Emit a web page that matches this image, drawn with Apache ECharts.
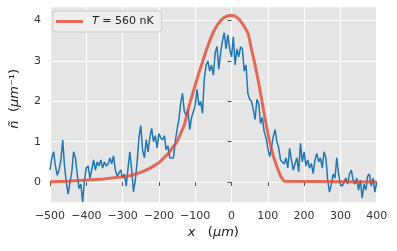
<!DOCTYPE html>
<html><head><meta charset="utf-8">
<script src="https://cdn.jsdelivr.net/npm/echarts@6/dist/echarts.min.js"></script>
<style>html,body{margin:0;padding:0;background:#fff}#c{width:397px;height:251px}</style>
</head><body><div id="c"></div>
<script>
// measured profile, x from -500 to 400 µm in 5 µm steps
const blueStart = -500, blueStep = 5;
const blueY = [
 0.3,0.6,0.75,0.4,0.17,0.3,0.55,1.04,0.4,0.0,
 -0.3,0.0,0.25,0.75,0.6,0.2,-0.16,-0.05,-0.49,0.05,
 0.35,0.4,0.1,0.3,0.55,0.3,0.5,0.4,0.55,0.35,
 0.5,0.4,0.45,0.6,0.45,0.65,0.3,0.15,0.15,0.3,
 0.1,0.2,-0.1,0.35,0.75,0.3,-0.24,0.05,0.5,1.1,
 1.4,0.8,0.6,1.05,0.75,1.1,1.33,1.0,1.15,0.85,
 1.2,1.1,1.05,1.15,0.8,0.9,0.6,0.6,0.6,1.0,
 1.3,1.55,1.95,2.2,1.75,1.65,1.8,1.3,1.6,1.75,
 1.9,2.3,1.9,2.0,1.7,2.55,2.9,3.0,2.75,2.9,
 2.65,3.2,3.36,2.8,3.2,3.5,3.7,3.3,3.65,3.3,
 3.1,3.6,2.9,3.3,3.1,3.35,3.3,2.75,2.9,2.2,
 2.05,2.0,1.8,1.55,2.05,1.95,1.45,1.6,1.25,1.1,
 0.85,0.63,0.85,1.12,1.3,1.0,0.85,0.55,0.5,0.45,
 0.6,0.35,0.84,0.55,0.3,0.45,0.6,0.26,0.96,0.5,
 0.75,0.4,0.55,0.35,0.46,0.21,0.55,0.71,0.5,0.6,
 0.35,0.75,0.6,0.05,-0.25,-0.05,0.2,0.1,0.6,0.2,
 -0.05,-0.1,0.0,0.1,-0.05,0.2,0.3,0.05,-0.05,0.1,
 -0.2,0.05,-0.4,-0.05,-0.2,0.15,0.2,-0.1,0.1,-0.25,
 0.0
];
// model curve
const redX = [-500,-450,-400,-350,-300,-275,-250,-225,-200,-175,-150,-130,-115,-100,-90,-80,-70,-60,-50,-40,-30,-20,-10,0,10,20,30,40,46,55,65,75,85,95,105,115,125,135,145,150,400];
const redY = [0.01,0.02,0.05,0.08,0.13,0.17,0.24,0.34,0.48,0.7,1.0,1.41,1.95,2.4,2.7,2.97,3.25,3.5,3.72,3.88,4.0,4.08,4.12,4.13,4.11,4.04,3.93,3.78,3.68,3.3,2.9,2.45,1.95,1.45,1.0,0.65,0.38,0.15,0.02,0,0];
const xTicks = [-500,-400,-300,-200,-100,0,100,200,300,400];
const yTicks = [0,1,2,3,4];
const legendName = 'T = 560 nK';

const blueData = blueY.map((v,i)=>[blueStart + i*blueStep, v]);
const redData = redX.map((x,i)=>[x, redY[i]]);
const fmt = v => String(v).replace('-', '\u2212');
const FONT = 'DejaVu Sans';

const chart = echarts.init(document.getElementById('c'), null, {renderer:'canvas'});
chart.setOption({
  animation:false,
  backgroundColor:'#ffffff',
  textStyle:{fontFamily:FONT},
  grid:{left:45.7, right:20.3, top:7.3, bottom:48.7, show:true, backgroundColor:'#e5e5e5', borderWidth:0},
  legend:{
    left:53, top:11, orient:'horizontal',
    data:[legendName],
    icon:'rect', itemWidth:27, itemHeight:3, itemGap:6,
    padding:[5,8,5,3],
    backgroundColor:'rgba(238,238,238,0.95)', borderColor:'#cccccc', borderWidth:1, borderRadius:3,
    formatter: () => '{i|T} = 560 nK',
    textStyle:{fontFamily:FONT, fontSize:11, color:'#222', padding:[0,0,0,4],
      rich:{i:{fontFamily:FONT, fontStyle:'italic', fontSize:11, color:'#222'}}}
  },
  xAxis:{
    type:'value', min:-500, max:400, interval:100,
    axisLine:{show:false},
    axisTick:{show:true, length:4, lineStyle:{color:'#555', width:1}, customValues:xTicks},
    axisLabel:{customValues:xTicks, formatter:fmt, fontFamily:FONT, fontSize:11, color:'#333', margin:8},
    splitLine:{show:true, lineStyle:{color:'#ffffff', width:1.2}},
    name:'{i|x}   ({i|μm})', nameLocation:'middle', nameGap:23,
    nameTextStyle:{fontFamily:FONT, fontSize:13, color:'#222',
      rich:{i:{fontFamily:FONT, fontStyle:'italic', fontSize:13, color:'#222'}}}
  },
  yAxis:{
    type:'value', min:-0.5, max:4.33,
    axisLine:{show:false},
    axisTick:{show:true, length:4, lineStyle:{color:'#555', width:1}, customValues:yTicks},
    axisLabel:{customValues:yTicks, formatter:fmt, fontFamily:FONT, fontSize:11, color:'#333', margin:9},
    splitLine:{show:true, lineStyle:{color:'#ffffff', width:1.2}},
    name:'{i|ñ}  ({i|μm}⁻¹)', nameLocation:'middle', nameGap:29, nameRotate:90,
    nameTextStyle:{fontFamily:FONT, fontSize:13, color:'#222', padding:[0,0,0,12],
      rich:{i:{fontFamily:FONT, fontStyle:'italic', fontSize:13, color:'#222'}}}
  },
  series:[
    {type:'line', name:'data', data:blueData, showSymbol:false, symbol:'none',
     lineStyle:{color:'#1f77b4', width:1.5}, itemStyle:{color:'#1f77b4'}, z:2},
    {type:'line', name:legendName, data:redData, showSymbol:false, symbol:'none',
     lineStyle:{color:'rgba(226,74,51,0.8)', width:3}, itemStyle:{color:'rgba(226,74,51,0.8)'}, z:3}
  ]
});
</script></body></html>
